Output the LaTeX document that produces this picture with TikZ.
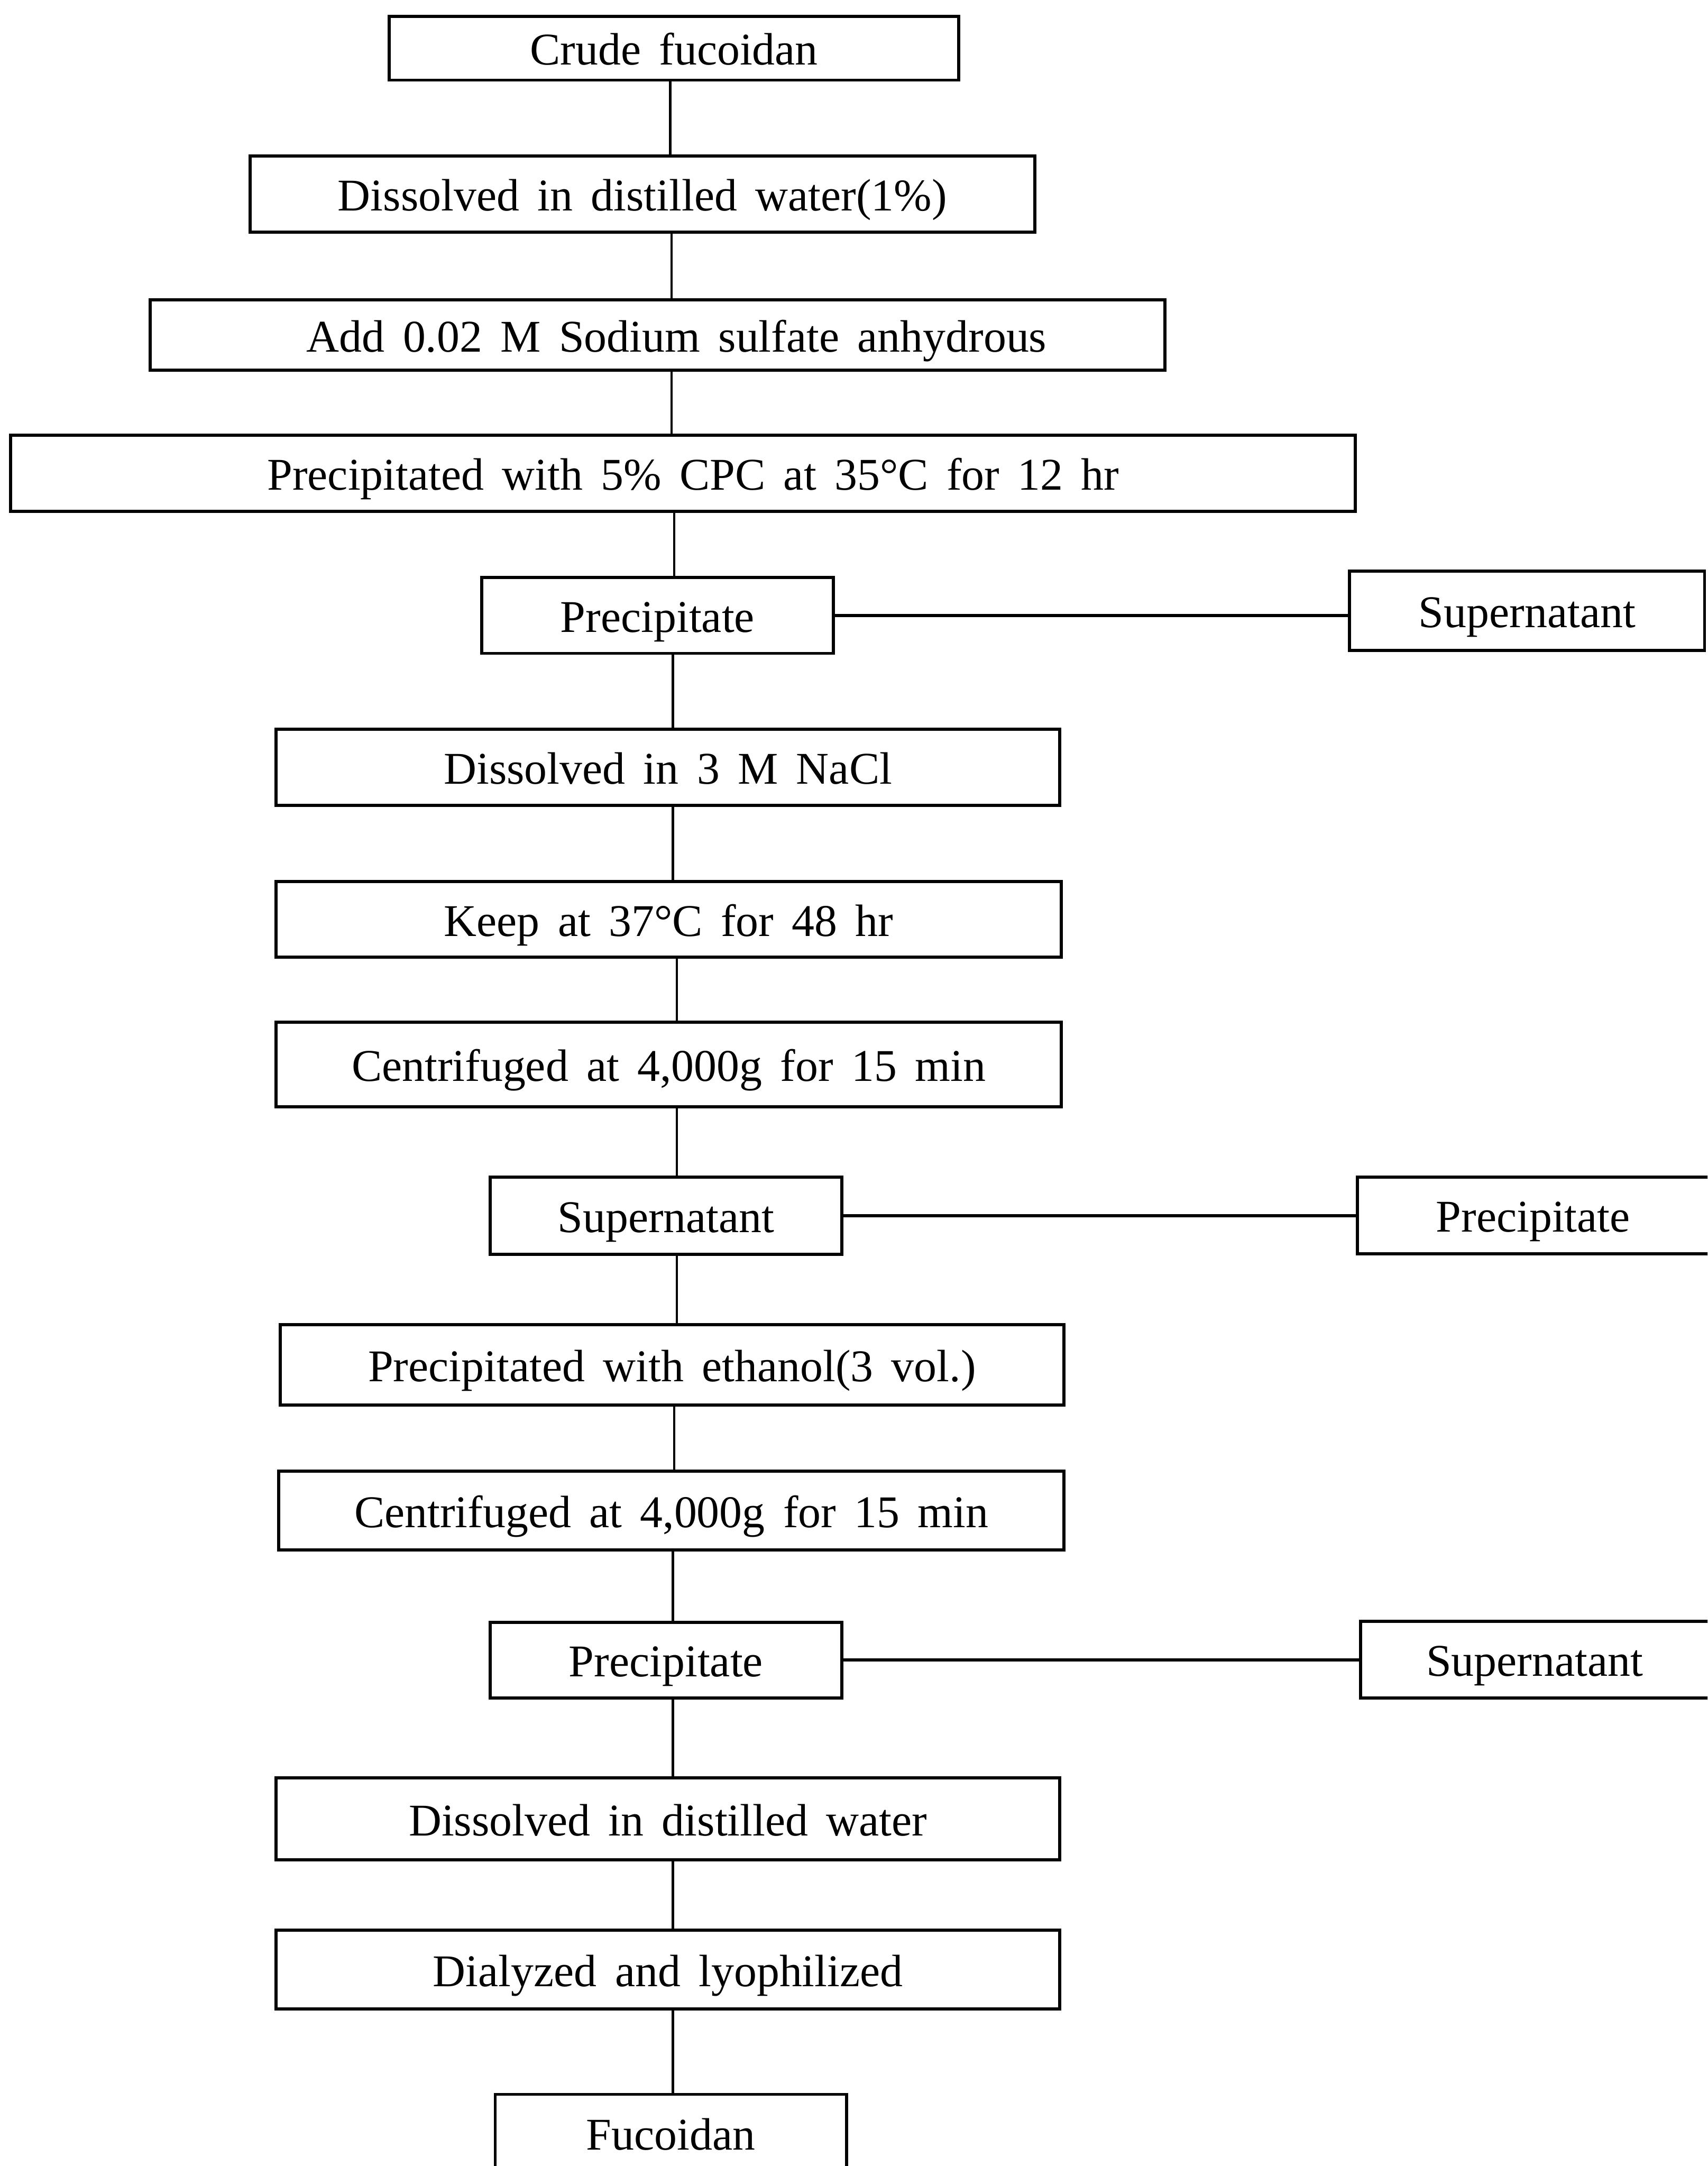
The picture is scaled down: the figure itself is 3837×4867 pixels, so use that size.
\documentclass[tikz,border=0pt]{standalone}
\usepackage{fontspec}
\setmainfont{Liberation Serif}[WordSpace=1.6]
\begin{document}
\begin{tikzpicture}[x=0.01cm,y=-0.01cm,
  box/.style={draw, line width=2pt, inner sep=0pt, text height=0.75cm, text depth=0cm, font=\fontsize{29}{34}\selectfont},
  conn/.style={line width=1.5pt},
  side/.style={line width=2pt}]
\useasboundingbox (0,0) rectangle (3837,4867);
\clip (0,0) rectangle (3837,4867);
\node[box, minimum width=12.79cm, minimum height=1.43cm] (n1) at (1514.5,108.5) {Crude fucoidan};
\node[box, minimum width=17.63cm, minimum height=1.71cm] (n2) at (1443.5,436.5) {Dissolved in distilled water(1\%)};
\node[box, minimum width=22.79cm, minimum height=1.58cm] (n3) at (1477.5,753) {\hspace*{0.86cm}Add 0.02 M Sodium sulfate anhydrous};
\node[box, minimum width=30.20cm, minimum height=1.71cm] (n4) at (1535,1063.5) {\hspace*{0.45cm}Precipitated with 5\% CPC at 35°C for 12 hr};
\node[box, minimum width=7.89cm, minimum height=1.70cm] (n5) at (1477.5,1383) {Precipitate};
\node[box, minimum width=7.97cm, minimum height=1.78cm] (s1) at (3431.5,1372) {Supernatant};
\node[box, minimum width=17.60cm, minimum height=1.71cm] (n6) at (1501,1724.5) {Dissolved in 3 M NaCl};
\node[box, minimum width=17.63cm, minimum height=1.70cm] (n7) at (1502.5,2066) {Keep at 37°C for 48 hr};
\node[box, minimum width=17.63cm, minimum height=1.90cm] (n8) at (1502.5,2392) {Centrifuged at 4,000g for 15 min};
\node[box, minimum width=7.89cm, minimum height=1.73cm] (n9) at (1496.5,2731.5) {Supernatant};
\node[box, minimum width=8.30cm, minimum height=1.72cm] (p2) at (3465,2731) {\hspace*{-0.4cm}Precipitate};
\node[box, minimum width=17.60cm, minimum height=1.80cm] (n10) at (1510,3067) {Precipitated with ethanol(3 vol.)};
\node[box, minimum width=17.63cm, minimum height=1.77cm] (n11) at (1508.5,3394.5) {Centrifuged at 4,000g for 15 min};
\node[box, minimum width=7.89cm, minimum height=1.70cm] (n12) at (1496.5,3730) {Precipitate};
\node[box, minimum width=8.23cm, minimum height=1.72cm] (s3) at (3468.5,3729) {\hspace*{-0.4cm}Supernatant};
\node[box, minimum width=17.60cm, minimum height=1.84cm] (n13) at (1501,4087) {Dissolved in distilled water};
\node[box, minimum width=17.60cm, minimum height=1.77cm] (n14) at (1501,4425.5) {Dialyzed and lyophilized};
\node[box, minimum width=7.89cm, minimum height=2.44cm] (n15) at (1507.5,4828) {\raisebox{0.35cm}{Fucoidan}};
\coordinate (l1) at (1506,0);
\coordinate (l2) at (1509,0);
\coordinate (l4) at (1515,0);
\coordinate (l5) at (1512,0);
\coordinate (l7) at (1521,0);
\draw[conn] (n1.south -| l1) -- (n2.north -| l1);
\draw[conn] (n2.south -| l2) -- (n3.north -| l2);
\draw[conn] (n3.south -| l2) -- (n4.north -| l2);
\draw[conn] (n4.south -| l4) -- (n5.north -| l4);
\draw[conn] (n5.south -| l5) -- (n6.north -| l5);
\draw[conn] (n6.south -| l5) -- (n7.north -| l5);
\draw[conn] (n7.south -| l7) -- (n8.north -| l7);
\draw[conn] (n8.south -| l7) -- (n9.north -| l7);
\draw[conn] (n9.south -| l7) -- (n10.north -| l7);
\draw[conn] (n10.south -| l4) -- (n11.north -| l4);
\draw[conn] (n11.south -| l5) -- (n12.north -| l5);
\draw[conn] (n12.south -| l5) -- (n13.north -| l5);
\draw[conn] (n13.south -| l5) -- (n14.north -| l5);
\draw[conn] (n14.south -| l5) -- (n15.north -| l5);
\draw[side] (n5.east) -- (n5.east -| s1.west);
\draw[side] (n9.east) -- (n9.east -| p2.west);
\draw[side] (n12.east) -- (n12.east -| s3.west);
\end{tikzpicture}
\end{document}
